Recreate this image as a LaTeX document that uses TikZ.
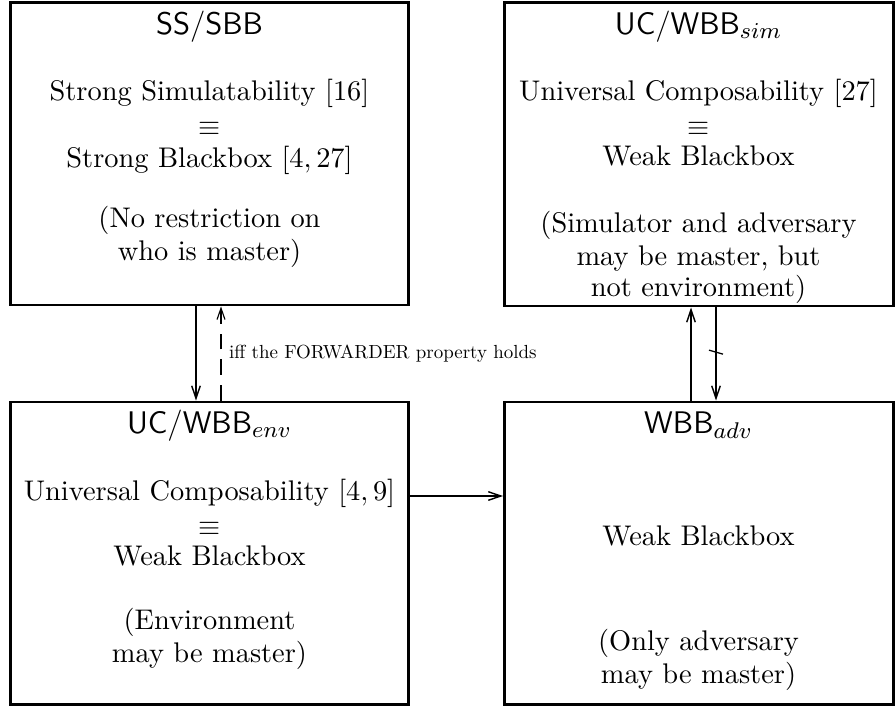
\documentclass[tikz,border=0pt]{standalone}
\usetikzlibrary{fit,arrows.meta}
\begin{document}
\begin{tikzpicture}[x=0.35207pt,y=-0.35207pt,
  box/.style={draw,line width=1.05pt,inner sep=0pt},
  body/.style={anchor=base,inner sep=0pt,font=\fontsize{10}{12}\selectfont},
  ttl/.style={anchor=base,inner sep=0pt,font=\fontsize{11}{13}\selectfont\sffamily},
  arr/.style={-{Straight Barb[length=4.4pt,width=3pt,line width=0.5pt]},line width=0.7pt},
  dasharr/.style={-{Straight Barb[length=4pt,width=2.8pt,line width=0.4pt]},line width=0.4pt,dash pattern=on 5.5pt off 3.5pt},
  lbl/.style={anchor=base west,inner sep=0pt,font=\fontsize{10}{12}\selectfont}]
\useasboundingbox (0,0) rectangle (895,706);
% boxes
\node[box,fit={(10.5,2.5)(408.5,305)}] (ss) {};
\node[box,fit={(504.5,2.5)(893,306)}] (ucsim) {};
\node[box,fit={(10.5,402)(408.5,704)}] (ucenv) {};
\node[box,fit={(504.5,402)(893,704)}] (wbb) {};
% top-left text
\node[ttl] (ss-t) at (209.5,35) {SS/SBB};
\node[body] (ss-1) at (209.5,100) {Strong Simulatability $[16]$};
\node[body] (ss-2) at (209.5,135) {$\equiv$};
\node[body] (ss-3) at (209.5,167) {Strong Blackbox $[4,27]$};
\node[body] (ss-4) at (209.5,227) {(No restriction on};
\node[body] (ss-5) at (209.5,260) {who is master)};
% top-right text
\node[ttl] (us-t) at (698.5,34) {UC/WBB$_{sim}$};
\node[body] (us-1) at (698.5,100) {Universal Composability $[27]$};
\node[body] (us-2) at (698.5,135) {$\equiv$};
\node[body] (us-3) at (698.5,165.5) {Weak Blackbox};
\node[body] (us-4) at (698.5,232) {(Simulator and adversary};
\node[body] (us-5) at (698.5,265) {may be master, but};
\node[body] (us-6) at (698.5,296) {not environment)};
% bottom-left text
\node[ttl] (ue-t) at (209.5,433) {UC/WBB$_{env}$};
\node[body] (ue-1) at (209.5,500) {Universal Composability $[4,9]$};
\node[body] (ue-2) at (209.5,535) {$\equiv$};
\node[body] (ue-3) at (209.5,565) {Weak Blackbox};
\node[body] (ue-4) at (209.5,629) {(Environment};
\node[body] (ue-5) at (209.5,662) {may be master)};
% bottom-right text
\node[ttl] (wa-t) at (698.5,433) {WBB$_{adv}$};
\node[body] (wa-1) at (698.5,545) {Weak Blackbox};
\node[body] (wa-2) at (698.5,650) {(Only adversary};
\node[body] (wa-3) at (698.5,683) {may be master)};
% connectors
\draw[arr] (196,0 |- ss.south) -- (196,0 |- ucenv.north);
\draw[dasharr] (221,0 |- ucenv.north) -- (221,0 |- ss.south);
\node[lbl] (iff) at (228.5,358) {\scalebox{0.667}{iff the FORWARDER property holds}};
\draw[arr] (691,0 |- wbb.north) -- (691,0 |- ucsim.south);
\draw[arr] (716,0 |- ucsim.south) -- coordinate[pos=0.48] (tk) (716,0 |- wbb.north);
\draw[line width=0.45pt] (tk) ++(-7,-2) -- ++(14,4);
\draw[arr] (ucenv.east |- 0,496) -- (wbb.west |- 0,496);
\end{tikzpicture}
\end{document}
